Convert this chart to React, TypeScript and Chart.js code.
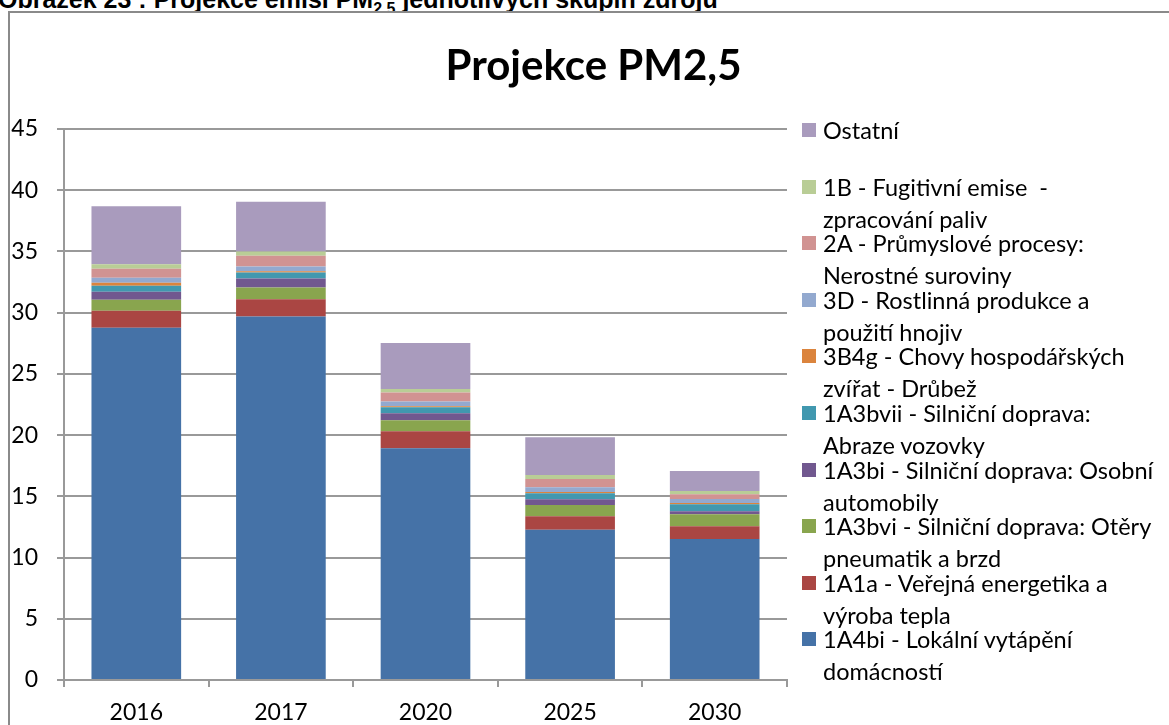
import React, { useEffect, useRef } from 'react';
import { Chart, registerables } from 'chart.js';

Chart.register(...registerables);

const categories = ['2016', '2017', '2020', '2025', '2030'];

// series listed bottom -> top of the stack
const lokalniVytapeni = [28.76, 29.68, 18.93, 12.28, 11.52];
const verejnaEnergetika = [1.39, 1.42, 1.39, 1.09, 1.04];
const oteryPneumatik = [0.9, 0.96, 0.9, 0.93, 0.98];
const osobniAutomobily = [0.65, 0.73, 0.57, 0.46, 0.24];
const abrazeVozovky = [0.49, 0.49, 0.49, 0.49, 0.57];
const chovyDrubez = [0.26, 0.11, 0.08, 0.11, 0.11];
const rostlinnaProdukce = [0.41, 0.38, 0.38, 0.38, 0.33];
const nerostneSuroviny = [0.73, 0.87, 0.73, 0.68, 0.38];
const fugitivniEmise = [0.36, 0.35, 0.3, 0.33, 0.27];
const ostatni = [4.74, 4.06, 3.76, 3.08, 1.63];

const seriesValues = [
  lokalniVytapeni,
  verejnaEnergetika,
  oteryPneumatik,
  osobniAutomobily,
  abrazeVozovky,
  chovyDrubez,
  rostlinnaProdukce,
  nerostneSuroviny,
  fugitivniEmise,
  ostatni,
];

const seriesNames = [
  '1A4bi - Lokální vytápění\ndomácností',
  '1A1a - Veřejná energetika a\nvýroba tepla',
  '1A3bvi - Silniční doprava: Otěry\npneumatik a brzd',
  '1A3bi - Silniční doprava: Osobní\nautomobily',
  '1A3bvii - Silniční doprava:\nAbraze vozovky',
  '3B4g - Chovy hospodářských\nzvířat - Drůbež',
  '3D - Rostlinná produkce a\npoužití hnojiv',
  '2A - Průmyslové procesy:\nNerostné suroviny',
  '1B - Fugitivní emise  -\nzpracování paliv',
  'Ostatní',
];

const seriesColors = [
  '#4572A7',
  '#AA4643',
  '#89A54E',
  '#71588F',
  '#4198AF',
  '#DB843D',
  '#93A9CF',
  '#D19392',
  '#B9CD96',
  '#A99BBD',
];

const yTicks = { min: 0, max: 45, step: 5 };
const titleText = 'Projekce PM2,5';

const FONT = 'Lato, "Open Sans", sans-serif';

export default function App() {
  const canvasRef = useRef<HTMLCanvasElement>(null);

  useEffect(() => {
    if (!canvasRef.current) return;
    const chart = new Chart(canvasRef.current, {
      type: 'bar',
      data: {
        labels: categories,
        datasets: seriesValues.map((vals, i) => ({
          label: seriesNames[i].replace('\n', ' '),
          data: vals,
          backgroundColor: seriesColors[i],
          borderWidth: 0,
          stack: 'all',
          categoryPercentage: 1,
          barPercentage: 0.62,
        })),
      },
      options: {
        animation: false,
        responsive: true,
        maintainAspectRatio: false,
        layout: { padding: { top: 129, right: 382, bottom: 0, left: 0 } },
        plugins: {
          legend: { display: false },
          title: { display: false },
          tooltip: { enabled: false },
        },
        scales: {
          x: {
            stacked: true,
            grid: {
              display: true,
              drawOnChartArea: false,
              drawTicks: true,
              tickLength: 7,
              color: '#999',
              lineWidth: 2,
              offset: true,
            },
            border: { display: true, color: '#999', width: 2 },
            ticks: { color: '#000', font: { family: FONT, size: 23 }, padding: 12, maxRotation: 0 },
            afterFit: (s: any) => {
              s.height = 45;
            },
          },
          y: {
            stacked: true,
            min: yTicks.min,
            max: yTicks.max,
            ticks: { stepSize: yTicks.step, color: '#000', font: { family: FONT, size: 23 }, padding: 19 },
            grid: { color: '#999', lineWidth: 2, tickLength: 7, drawTicks: true },
            border: { display: true, color: '#999', width: 2 },
            afterFit: (s: any) => {
              s.width = 64;
            },
          },
        },
      },
    });
    return () => chart.destroy();
  }, []);

  const legendOrder = seriesNames.map((_, i) => i).reverse();

  return (
    <div
      style={{
        position: 'absolute',
        left: 0,
        top: 0,
        width: 1169,
        height: 725,
        overflow: 'hidden',
        background: '#fff',
      }}
    >
      <div
        style={{
          position: 'absolute',
          left: -2,
          top: -13,
          font: 'bold 25px "Liberation Sans", Arial, sans-serif',
          lineHeight: '25px',
          whiteSpace: 'nowrap',
          color: '#000',
        }}
      >
        Obrázek 23 : Projekce emisí PM<sub style={{ fontSize: 16, lineHeight: 0 }}>2,5</sub> jednotlivých skupin zdrojů
      </div>
      <div
        style={{
          position: 'absolute',
          left: 8,
          top: 11,
          width: 1300,
          height: 900,
          borderLeft: '2px solid #8a8a8a',
          borderTop: '2px solid #8a8a8a',
          boxSizing: 'border-box',
          background: '#fff',
        }}
      />
      <div style={{ position: 'absolute', left: 0, top: 0, width: 1169, height: 725 }}>
        <canvas ref={canvasRef} />
      </div>
      <div
        style={{
          position: 'absolute',
          left: 0,
          width: 1187,
          top: 36,
          textAlign: 'center',
          font: `bold 42px ${FONT}`,
          lineHeight: '56px',
          color: '#000',
        }}
      >
        {titleText}
      </div>
      {legendOrder.map((idx, k) => (
        <div
          key={idx}
          style={{
            position: 'absolute',
            left: 802,
            top: 114 + k * 56.6,
            display: 'flex',
            alignItems: 'flex-start',
            font: `23.5px ${FONT}`,
            lineHeight: '32px',
            color: '#000',
            whiteSpace: 'pre',
          }}
        >
          <span
            style={{
              display: 'inline-block',
              width: 14,
              height: 14,
              marginTop: 9,
              marginRight: 7,
              background: seriesColors[idx],
              flex: 'none',
            }}
          />
          <span>{seriesNames[idx]}</span>
        </div>
      ))}
    </div>
  );
}
